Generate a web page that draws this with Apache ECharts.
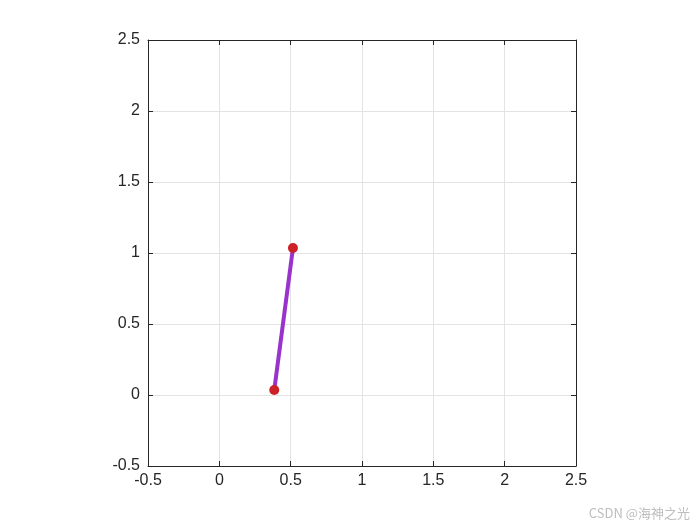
<!DOCTYPE html>
<html><head><meta charset="utf-8">
<script src="https://cdn.jsdelivr.net/npm/echarts@6/dist/echarts.min.js"></script>
<style>html,body{margin:0;padding:0;background:#fff}#c{width:700px;height:525px}</style>
</head><body><div id="c"></div>
<script>
var xValues = [0.385, 0.516];
var yValues = [0.035, 1.035];
var tickLabels = ['-0.5','0','0.5','1','1.5','2','2.5'];
var pts = xValues.map(function(x,i){return [x,yValues[i]];});
var chart = echarts.init(document.getElementById('c'));
function axisCommon(pos){
  return {
    type:'value', min:-0.5, max:2.5, interval:0.5, position:pos,
    axisLine:{show:true,onZero:false,lineStyle:{color:'#262626',width:1}},
    axisTick:{show:true,inside:true,length:5,lineStyle:{color:'#262626'}},
    splitLine:{show:false},
    axisLabel:{show:false}
  };
}
function fmt(v){var s=String(Math.round(v*10)/10);return tickLabels.indexOf(s)>=0?s:'';}
var xa = axisCommon('bottom');
xa.splitLine = {show:true,lineStyle:{color:'#e3e3e3',width:1}};
xa.axisLabel = {show:true,color:'#262626',fontSize:16,fontFamily:'Liberation Sans, Arial',margin:7,formatter:fmt};
var ya = axisCommon('left');
ya.splitLine = {show:true,lineStyle:{color:'#e3e3e3',width:1}};
ya.axisLabel = {show:true,color:'#262626',fontSize:16,fontFamily:'Liberation Sans, Arial',margin:8,formatter:fmt};
var xt = axisCommon('top');
var yr = axisCommon('right');
chart.setOption({
  animation:false,
  grid:{left:148,top:40,width:428,height:426,containLabel:false},
  xAxis:[xa,xt],
  yAxis:[ya,yr],
  series:[
    {type:'line',data:pts,xAxisIndex:0,yAxisIndex:0,symbol:'circle',symbolSize:10,
     lineStyle:{color:'#9933cc',width:4},
     itemStyle:{color:'#cc2127'},z:3}
  ],
  graphic:[{type:'text',right:10,bottom:5,style:{text:'CSDN @海神之光',fill:'#bdbdbd',fontSize:13,fontFamily:'Noto Sans CJK SC'}}]
});
</script></body></html>
